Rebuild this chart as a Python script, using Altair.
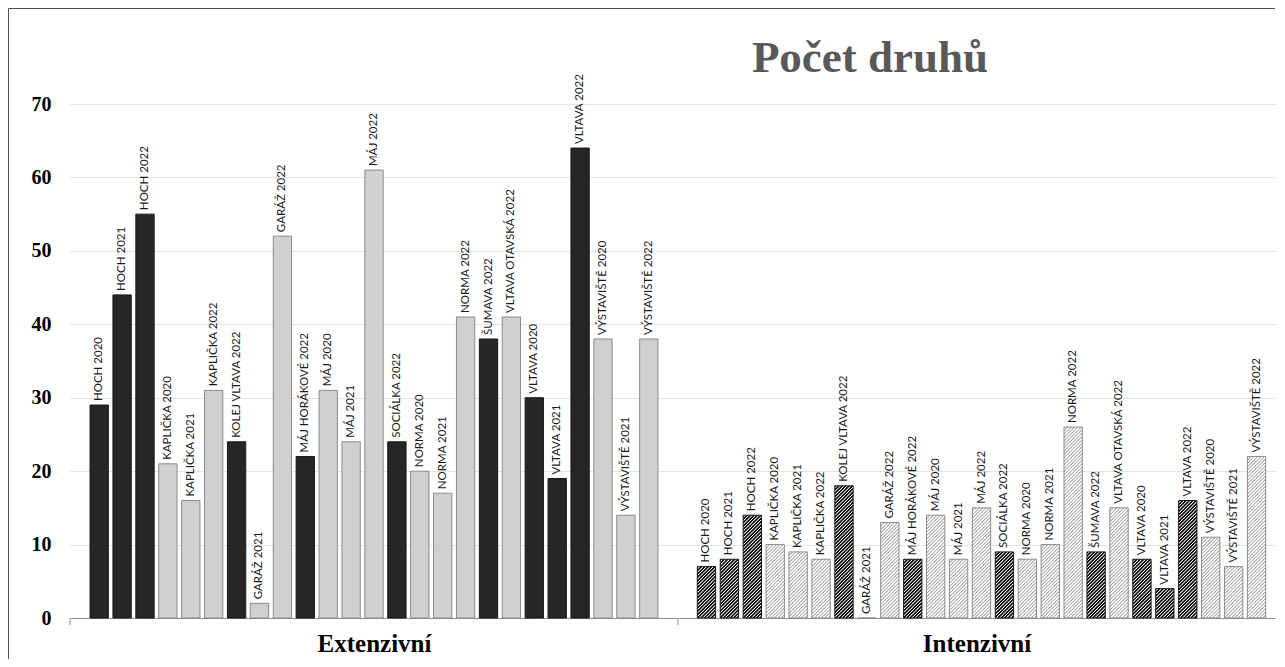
import altair as alt
import pandas as pd

# ---------------- data ----------------
labels = ["HOCH 2020", "HOCH 2021", "HOCH 2022", "KAPLIČKA 2020", "KAPLIČKA 2021",
          "KAPLIČKA 2022", "KOLEJ VLTAVA 2022", "GARÁŽ 2021", "GARÁŽ 2022",
          "MÁJ HORÁKOVÉ 2022", "MÁJ 2020", "MÁJ 2021", "MÁJ 2022", "SOCIÁLKA 2022",
          "NORMA 2020", "NORMA 2021", "NORMA 2022", "ŠUMAVA 2022", "VLTAVA OTAVSKÁ 2022",
          "VLTAVA 2020", "VLTAVA 2021", "VLTAVA 2022", "VÝSTAVIŠTĚ 2020",
          "VÝSTAVIŠTĚ 2021", "VÝSTAVIŠTĚ 2022"]
site_type = ["A", "A", "A", "B", "B", "B", "A", "B", "B", "A", "B", "B", "B", "A",
             "B", "B", "B", "A", "B", "A", "A", "A", "B", "B", "B"]
extenzivni = [29, 44, 55, 21, 16, 31, 24, 2, 52, 22, 31, 24, 61, 24, 20, 17, 41, 38,
              41, 30, 19, 64, 38, 14, 38]
intenzivni = [7, 8, 14, 10, 9, 8, 18, 0, 13, 8, 14, 8, 15, 9, 8, 10, 26, 9, 15, 8, 4,
              16, 11, 7, 22]
group_titles = ["Extenzivní", "Intenzivní"]
chart_title = "Počet druhů"
y_ticks = [0, 10, 20, 30, 40, 50, 60, 70]

ext_df = pd.DataFrame({"label": labels, "value": extenzivni, "typ": site_type})
int_df = pd.DataFrame({"label": labels, "value": intenzivni, "typ": site_type})
one = pd.DataFrame({"k": [0]})

# ---------------- layout ----------------
W1, W2, H = 608, 597, 514
PI = 0.2
SERIF = "Liberation Serif"
SANS = "Lato"
GRID = "#e3e3e3"
AXIS = "#8c8c8c"

# hatch fill for the second group (diagonal stripes as repeated gradient stops)
PX = H / 70.0
STEP2 = W2 / (25 - PI + 2 * 0.624)
BW = STEP2 * (1 - PI)
L = 240.0
P = 3.4


def stops(c1, c2, a1, a2, a3):
    # trapezoid wave: c1 plateau [0,a1], ramp to c2 at a2, c2 plateau to a3, ramp back at 1
    out = []
    n = int(L / P) + 1
    for i in range(n):
        for f, col in ((0.0, c1), (a1, c1), (a2, c2), (a3, c2)):
            out.append((min(1.0, (i + f) * P / L), col))
    return "[" + ",".join("{offset:%.5f,color:'%s'}" % (o, col) for o, col in out) + "]"


def grad(st):
    return ("{gradient:'linear',x1:0,y1:0,x2:%.4f*%.1f/datum.den,y2:datum.h*%.1f/datum.den,stops:%s}"
            % (BW, L, L, st))


grad_expr = "datum.typ === 'A' ? %s : %s" % (
    grad(stops("#0d0d0d", "#ffffff", 0.42, 0.66, 0.76)),
    grad(stops("#a8a8a8", "#ffffff", 0.15, 0.40, 0.75)),
)

y_left = alt.Y("value:Q", scale=alt.Scale(domain=[0, 70], nice=False),
               axis=alt.Axis(values=y_ticks, labelFont=SERIF, labelFontWeight="bold",
                             labelFontSize=20, labelColor="#000000", labelPadding=19,
                             domain=False, ticks=False, gridColor=GRID, title=None))
y_right = alt.Y("value:Q", scale=alt.Scale(domain=[0, 70], nice=False),
                axis=alt.Axis(values=y_ticks, labels=False, domain=False, ticks=False,
                              gridColor=GRID, title=None))


def x_enc(title, po, align):
    return alt.X("label:N", sort=labels,
                 scale=alt.Scale(paddingInner=PI, paddingOuter=po, align=align),
                 axis=alt.Axis(labels=False, ticks=False, grid=False, domainColor=AXIS,
                               title=title, titleFont=SERIF, titleFontSize=25,
                               titleFontWeight="bold", titleColor="#000000",
                               titleBaseline="alphabetic", titleY=33))


x_left = x_enc(group_titles[0], 0.875, 0.5)
x_right = x_enc(group_titles[1], 0.624, 0.675)

stroke_scale = alt.Scale(domain=["A", "B"], range=["#1a1a1a", "#8c8c8c"])

bars_left = alt.Chart(ext_df).mark_bar(strokeWidth=1).encode(
    x=x_left, y=y_left,
    color=alt.Color("typ:N", scale=alt.Scale(domain=["A", "B"], range=["#262626", "#d0d0d0"]),
                    legend=None),
    stroke=alt.Stroke("typ:N", scale=stroke_scale, legend=None),
)

bars_right = alt.Chart(int_df).transform_calculate(
    h="datum.value*%.5f" % PX
).transform_calculate(
    den="%.4f + datum.h*datum.h" % (BW * BW)
).transform_calculate(
    grad=grad_expr
).mark_bar(strokeWidth=1).encode(
    x=x_right, y=y_right,
    color=alt.Color("grad:N", scale=None),
    stroke=alt.Stroke("typ:N", scale=alt.Scale(domain=["A", "B"], range=["#333333", "#8c8c8c"]),
                      legend=None),
)


def bar_labels(df, x, y):
    return alt.Chart(df).mark_text(angle=270, align="left", baseline="middle", yOffset=-4,
                                   font=SANS, fontSize=11.5, color="#1a1a1a").encode(
        x=x, y=y, text="label:N")


sep_tick = alt.Chart(one).mark_rule(color=AXIS).encode(
    x=alt.value(0), y=alt.value(H), y2=alt.value(H + 7))

frame_left = alt.Chart(one).mark_rule(color="#4d4d4d", strokeWidth=1).encode(
    x=alt.value(-61.5), y=alt.value(-95.5), y2=alt.value(H + 41))
frame_top = alt.Chart(one).mark_rule(color="#4d4d4d", strokeWidth=1).encode(
    x=alt.value(-61.5), x2=alt.value(1205), y=alt.value(-95.5))

title_txt = alt.Chart(one).mark_text(text=chart_title, font=SERIF, fontSize=45,
                                     fontWeight="bold", color="#595959", align="center",
                                     baseline="alphabetic").encode(
    x=alt.value(192), y=alt.value(-32))

left = alt.layer(bars_left, bar_labels(ext_df, x_left, y_left), sep_tick,
                 frame_left, frame_top).properties(width=W1, height=H)
right = alt.layer(bars_right, bar_labels(int_df, x_right, y_right), sep_tick,
                  title_txt).properties(width=W2, height=H)

chart = alt.hconcat(left, right, spacing=0, bounds="flush").properties(
    padding=0
).configure_view(stroke=None)

chart.save("out.html", embed_options={"renderer": "svg", "actions": False})
